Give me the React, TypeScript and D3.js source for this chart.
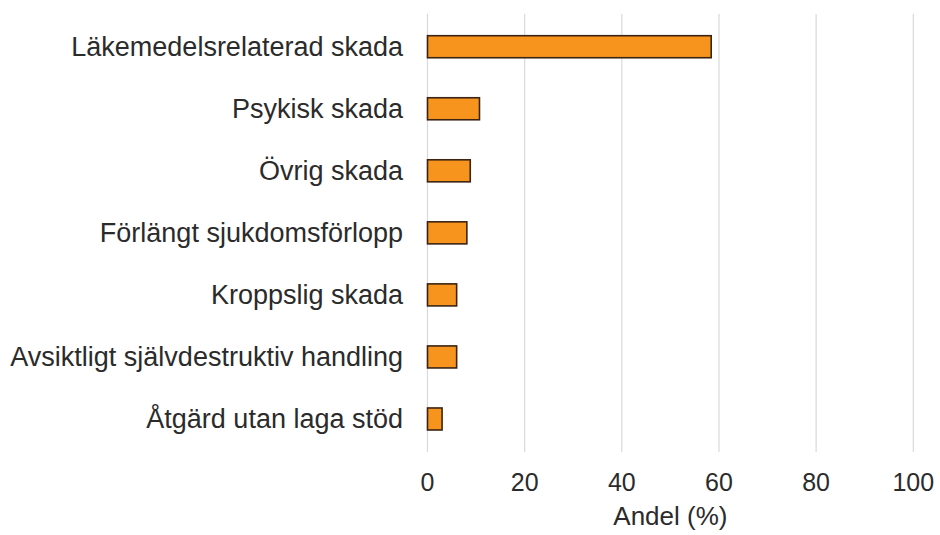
import React from "react";
import * as d3 from "d3";

// Share of injury types (%)
const categories = [
  "Läkemedelsrelaterad skada",
  "Psykisk skada",
  "Övrig skada",
  "Förlängt sjukdomsförlopp",
  "Kroppslig skada",
  "Avsiktligt självdestruktiv handling",
  "Åtgärd utan laga stöd",
];
const values = [58.4, 10.7, 8.8, 8.1, 6.0, 6.0, 3.0];
const xTicks = [0, 20, 40, 60, 80, 100];
const xTitle = "Andel (%)";

const W = 940;
const H = 535;
const FONT = "'Liberation Sans', Arial, sans-serif";
const TEXT = "#2b2b2b";

export default function App() {
  const x = d3.scaleLinear().domain([0, 100]).range([427.5, 913.3]);
  const y = d3
    .scaleBand<string>()
    .domain(categories)
    .range([15.7, 450])
    .paddingInner(0.645)
    .paddingOuter(0.3225);

  const gridTop = 14;
  const gridBottom = 452;

  return (
    <svg
      width={W}
      height={H}
      viewBox={`0 0 ${W} ${H}`}
      style={{ position: "absolute", left: 0, top: 0, background: "#fff" }}
      fontFamily={FONT}
    >
      {/* vertical gridlines */}
      {xTicks.map((t) => (
        <line
          key={`g${t}`}
          x1={x(t)}
          x2={x(t)}
          y1={gridTop}
          y2={gridBottom}
          stroke="#d9d9d9"
          strokeWidth={1.2}
        />
      ))}

      {/* bars */}
      {categories.map((c, i) => (
        <rect
          key={c}
          x={x(0)}
          y={y(c)!}
          width={x(values[i]) - x(0)}
          height={y.bandwidth()}
          fill="#F7941D"
          stroke="#3b2414"
          strokeWidth={1.6}
        />
      ))}

      {/* category labels */}
      {categories.map((c) => (
        <text
          key={`l${c}`}
          x={403}
          y={y(c)! + y.bandwidth() / 2}
          dy="0.35em"
          textAnchor="end"
          fontSize={27}
          fill={TEXT}
        >
          {c}
        </text>
      ))}

      {/* x tick labels */}
      {xTicks.map((t) => (
        <text
          key={`t${t}`}
          x={x(t)}
          y={491}
          textAnchor="middle"
          fontSize={25}
          fill={TEXT}
        >
          {t}
        </text>
      ))}

      {/* x axis title */}
      <text
        x={(x(0) + x(100)) / 2}
        y={525}
        textAnchor="middle"
        fontSize={26}
        fill={TEXT}
      >
        {xTitle}
      </text>
    </svg>
  );
}
